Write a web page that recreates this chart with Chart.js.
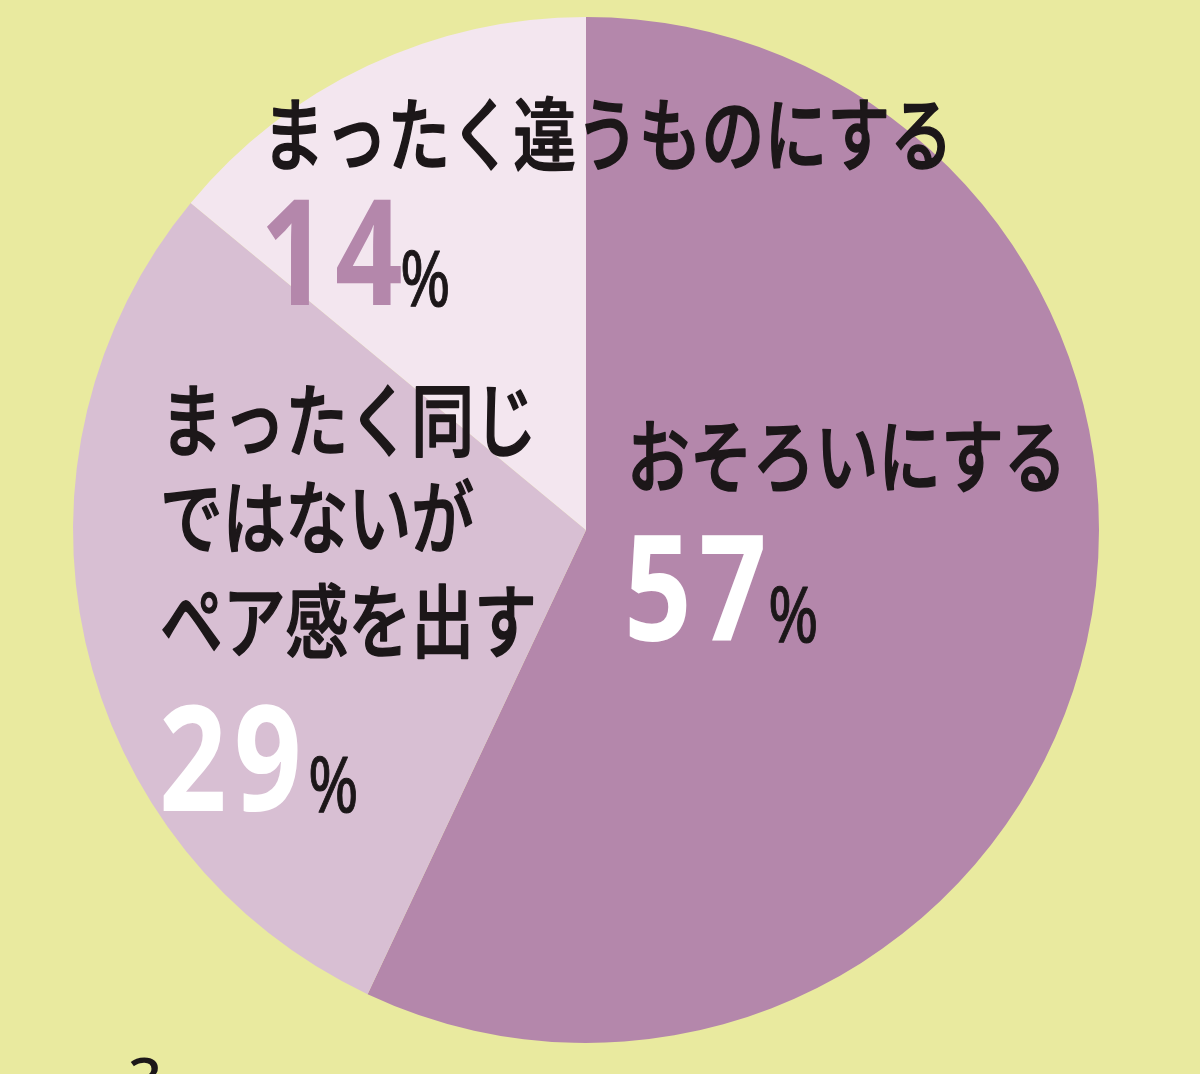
<!DOCTYPE html>
<html>
<head>
<meta charset="utf-8">
<script src="https://cdn.jsdelivr.net/npm/chart.js@4/dist/chart.umd.min.js"></script>
<style>
    html, body { margin: 0; padding: 0; background: #e9ea9f; }
    #wrap { position: relative; width: 1200px; height: 1074px; overflow: hidden; }
</style>
</head>
<body>
<div id="wrap"><canvas id="chart"></canvas></div>
<script>
// data
var categories = ["おそろいにする", "まったく同じではないがペア感を出す", "まったく違うものにする"];
var shares = [57, 29, 14];
var labelLines = [["おそろいにする"], ["まったく同じ", "ではないが", "ペア感を出す"], ["まったく違うものにする"]];
var sliceColors = ["#b487ab", "#d8bfd3", "#f3e6ef"];
var numberColors = ["#ffffff", "#ffffff", "#b487ab"];

var jpFont = '"Noto Sans CJK JP", "Noto Sans", sans-serif';
var numFont = '"Noto Sans", "DejaVu Sans", sans-serif';

// where each label block sits, offset from the pie centre
var labelPlace = [
    { x: 41, lines: [-44], numX: 38, numY: 111, pctX: 182 },
    { x: -426, lines: [-80, 17, 121], numX: -427, numY: 281, pctX: -278 },
    { x: -324, lines: [-366], numX: -326, numY: -225, pctX: -186 }
];

var drawText = function (ctx, text, x, y, font, color, sx, spacing, stroke) {
    ctx.save();
    ctx.translate(x, y);
    ctx.scale(sx, 1);
    ctx.font = font;
    ctx.letterSpacing = (spacing || 0) + "px";
    ctx.fillStyle = color;
    ctx.textAlign = "left";
    ctx.textBaseline = "alphabetic";
    ctx.fillText(text, 0, 0);
    if (stroke) {
        ctx.strokeStyle = color;
        ctx.lineWidth = stroke;
        ctx.lineJoin = "round";
        ctx.strokeText(text, 0, 0);
    }
    ctx.restore();
};

var labelPlugin = {
    id: "sliceLabels",
    afterDatasetsDraw: function (chart) {
        var ctx = chart.ctx;
        var arc = chart.getDatasetMeta(0).data[0];
        var cx = arc.x, cy = arc.y;
        for (var i = 0; i < shares.length; i++) {
            var p = labelPlace[i];
            for (var j = 0; j < labelLines[i].length; j++) {
                drawText(ctx, labelLines[i][j], cx + p.x, cy + p.lines[j], "500 80px " + jpFont, "#1c1719", 0.785, 0, 1.6);
            }
            drawText(ctx, String(shares[i]), cx + p.numX, cy + p.numY, "700 148px " + numFont, numberColors[i], 0.8, 9);
            drawText(ctx, "%", cx + p.pctX, cy + p.numY + 1, "400 76px " + numFont, "#1c1719", 0.8, 0, 1);
        }
        // page number cut by the bottom edge
        drawText(ctx, "3", 128, 1101, "500 60px " + numFont, "#1c1719", 1);
    }
};

var config = {
    type: "pie",
    data: {
        labels: categories,
        datasets: [{
            data: shares,
            backgroundColor: sliceColors,
            borderWidth: 0,
            hoverOffset: 0,
            offset: 0
        }]
    },
    options: {
        responsive: true,
        maintainAspectRatio: false,
        animation: false,
        layout: { padding: { left: 73, right: 101, top: 17, bottom: 31 } },
        plugins: {
            legend: { display: false },
            tooltip: { enabled: false }
        }
    },
    plugins: [labelPlugin]
};

var chart = new Chart(document.getElementById("chart"), config);
</script>
</body>
</html>
